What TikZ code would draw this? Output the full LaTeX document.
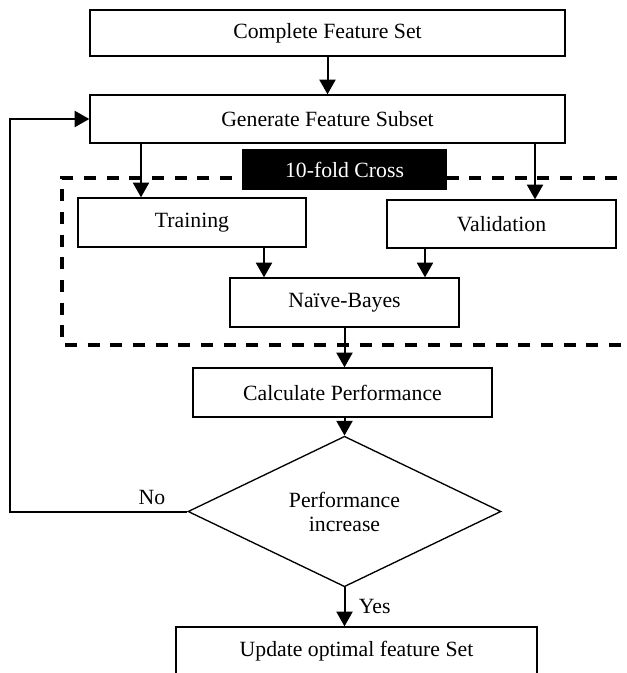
\documentclass[tikz,border=0pt]{standalone}
\usepackage{fontspec}
\setmainfont{Liberation Serif}
\usetikzlibrary{shapes.geometric, arrows.meta}

\begin{document}
\begin{tikzpicture}[x=0.75pt, y=-0.75pt,
                    every node/.style={font=\fontsize{16.3}{18}\selectfont, inner sep=0pt},
                    box/.style={rectangle, draw, line width=1pt, align=center},
                    decision/.style={diamond, draw, line width=1pt, align=center, minimum width=234.75pt, minimum height=99.75pt},
                    foldtag/.style={rectangle, fill=black, text=white, minimum width=153.75pt, minimum height=30.75pt},
                    flow/.style={-{Triangle[length=11pt, width=12pt]}, line width=1.5pt},
                    foldline/.style={dash pattern=on 9pt off 8pt, line width=2.8pt}
                ]
                \useasboundingbox (0,0) rectangle (626,673);
                \clip (0,0) rectangle (626,673);

                % cadre de la validation croisee
                \draw[foldline] (640,178) -| (62,345) -- (640,345);

                \node[box, minimum width=356.25pt, minimum height=34.5pt] (full) at (327.5,33) {Complete Feature Set};
                \node[box, minimum width=356.25pt, minimum height=36pt] (gen) at (327.5,119) {Generate Feature Subset};
                \node[foldtag] (cv) at (344.5,170) {10-fold Cross};
                \node[box, minimum width=171pt, minimum height=36.75pt] (train) at (192,222.5) {Training};
                \node[box, minimum width=171.75pt, minimum height=36pt] (valid) at (501.5,224) {Validation};
                \node[box, minimum width=171.75pt, minimum height=36.75pt] (nb) at (344.5,302.5) {Naïve-Bayes};
                \node[box, minimum width=224.25pt, minimum height=36.75pt] (calc) at (342.5,392.5) {Calculate Performance};
                \node[decision] (dec) at (344.5,511.5) {Performance\\increase};
                \node[box, minimum width=270.75pt, minimum height=36pt] (upd) at (356.5,651) {Update optimal feature Set};

                \coordinate (ta) at (141,0);
                \coordinate (va) at (535,0);
                \coordinate (tb) at (264,0);
                \coordinate (vb) at (425,0);
                \coordinate (fb) at (10,0);

                \draw[flow] (full) -- (gen);
                \draw[flow] (gen.south -| ta) -- (ta |- train.north);
                \draw[flow] (gen.south -| va) -- (va |- valid.north);
                \draw[flow] (train.south -| tb) -- (tb |- nb.north);
                \draw[flow] (valid.south -| vb) -- (vb |- nb.north);
                \draw[flow] (nb.south) -- (nb.south |- calc.north);
                \draw[flow] (dec.north |- calc.south) -- (dec.north);
                \draw[flow] (dec.south) -- node[midway, right=10pt] {Yes} (dec.south |- upd.north);

                % retour vers la generation de sous-ensemble
                \draw[flow] (dec.west) -- node[pos=0.2, above=4pt] {No} (dec.west -| fb) |- (gen.west);
                \end{tikzpicture}
\end{document}
